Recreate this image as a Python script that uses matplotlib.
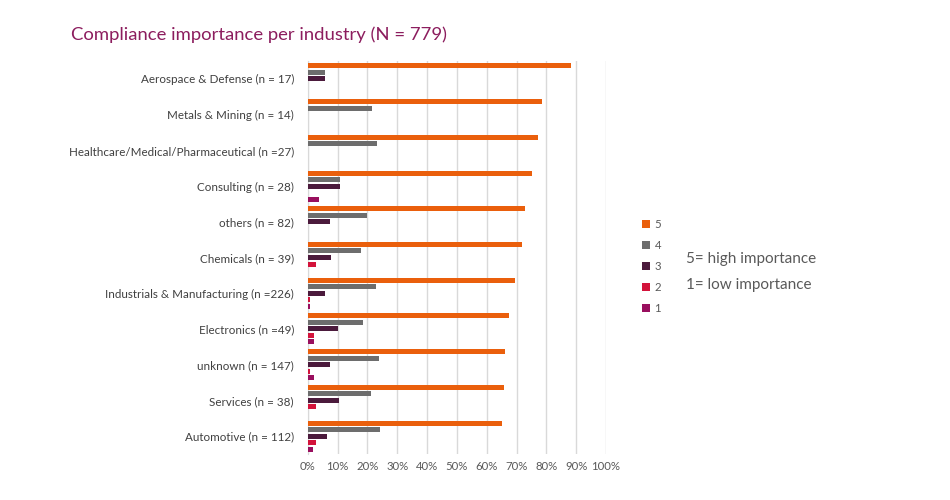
import numpy as np
import matplotlib.pyplot as plt
from matplotlib.patches import Patch
from matplotlib.ticker import PercentFormatter

plt.rcParams['font.family'] = ['Lato', 'DejaVu Sans']

# categories, top to bottom
industries = ['Aerospace & Defense (n = 17)', 'Metals & Mining (n = 14)',
              'Healthcare/Medical/Pharmaceutical (n =27)', 'Consulting (n = 28)',
              'others (n = 82)', 'Chemicals (n = 39)',
              'Industrials & Manufacturing (n =226)', 'Electronics (n =49)',
              'unknown (n = 147)', 'Services (n = 38)', 'Automotive (n = 112)']

# share of answers per importance level (%)
imp5 = [88.2, 78.6, 77.1, 75.0, 72.8, 71.8, 69.6, 67.3, 66.0, 65.8, 65.2]
imp4 = [5.9, 21.4, 23.3, 10.7, 19.8, 17.9, 23.0, 18.4, 23.8, 21.1, 24.1]
imp3 = [5.9, 0, 0, 10.7, 7.4, 7.7, 5.8, 10.2, 7.5, 10.5, 6.3]
imp2 = [0, 0, 0, 0, 0, 2.6, 0.9, 2.0, 0.7, 2.6, 2.7]
imp1 = [0, 0, 0, 3.6, 0, 0, 0.9, 2.0, 2.0, 0, 1.8]

levels = ['5', '4', '3', '2', '1']
series = [imp5, imp4, imp3, imp2, imp1]
colors = ['#EA5F0C', '#6D6D6D', '#4B1A3C', '#D3133B', '#990F5E']

fig = plt.figure(figsize=(9.5, 5), dpi=100)
ax = fig.add_axes([0.324, 0.092, 0.314, 0.786])

pos = np.arange(len(industries))
step = 0.182
for i, (vals, col) in enumerate(zip(series, colors)):
    ax.barh(pos - 2 * step + i * step, np.array(vals) / 100, height=0.14,
            color=col, zorder=3)

ax.set_yticks(pos)
ax.set_yticklabels(industries, fontsize=8.4, color='#404040')
ax.set_ylim(len(industries) - 0.5, -0.5)
ax.set_xlim(0, 1.0)
ax.set_xticks(np.arange(0, 1.01, 0.1))
ax.xaxis.set_major_formatter(PercentFormatter(1.0, decimals=0))
ax.tick_params(axis='x', labelsize=8.2, colors='#595959', length=0, pad=5)
ax.tick_params(axis='y', length=0, pad=10)
ax.grid(axis='x', color='#D9D9D9', linewidth=1, zorder=0)
for s in ['top', 'right', 'bottom']:
    ax.spines[s].set_visible(False)
ax.spines['left'].set_color('#D9D9D9')

handles = [Patch(facecolor=c, label=l) for c, l in zip(colors, levels)]
fig.legend(handles=handles, loc='upper left', bbox_to_anchor=(0.665, 0.583),
           frameon=False, fontsize=8.2, handlelength=0.7, handleheight=0.7,
           handletextpad=0.4, labelspacing=0.88, labelcolor='#595959')

fig.text(0.722, 0.483, '5= high importance', fontsize=11, color='#595959',
         va='center')
fig.text(0.722, 0.431, '1= low importance', fontsize=11, color='#595959',
         va='center')

fig.text(0.075, 0.93, 'Compliance importance per industry (N = 779)',
         fontsize=13.3, color='#8C1D5E', va='center')

fig.savefig('out.png', dpi=100)
